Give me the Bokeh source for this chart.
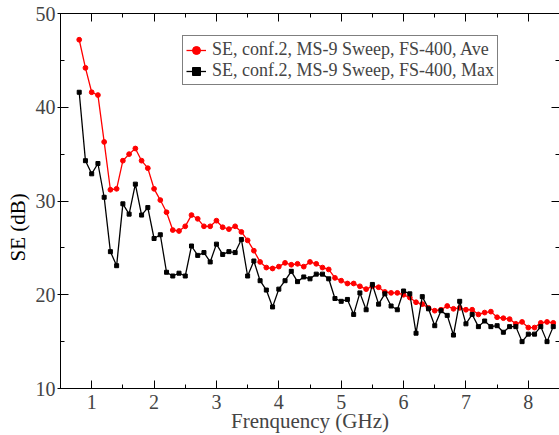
from bokeh.plotting import figure
from bokeh.models import (Legend, LegendItem, LinearAxis, SingleIntervalTicker,
                          Range1d, ColumnDataSource, CustomJSTickFormatter, Title)
from bokeh.embed import file_html
from bokeh.resources import INLINE

freq = [0.8, 0.9, 1.0, 1.1, 1.2, 1.3, 1.4, 1.5, 1.6, 1.7, 1.8, 1.9,
        2.0, 2.1, 2.2, 2.3, 2.4, 2.5, 2.6, 2.7, 2.8, 2.9,
        3.0, 3.1, 3.2, 3.3, 3.4, 3.5, 3.6, 3.7, 3.8, 3.9,
        4.0, 4.1, 4.2, 4.3, 4.4, 4.5, 4.6, 4.7, 4.8, 4.9,
        5.0, 5.1, 5.2, 5.3, 5.4, 5.5, 5.6, 5.7, 5.8, 5.9,
        6.0, 6.1, 6.2, 6.3, 6.4, 6.5, 6.6, 6.7, 6.8, 6.9,
        7.0, 7.1, 7.2, 7.3, 7.4, 7.5, 7.6, 7.7, 7.8, 7.9,
        8.0, 8.1, 8.2, 8.3, 8.4]

se_ave = [47.2, 44.2, 41.6, 41.3, 36.3, 31.2, 31.3, 34.3, 35.0, 35.6, 34.3, 33.5,
          31.3, 30.1, 28.8, 26.9, 26.8, 27.3, 28.5, 28.1, 27.3, 27.3,
          27.9, 27.2, 27.0, 27.3, 26.7, 25.8, 24.7, 23.5, 22.9, 22.8,
          23.0, 23.4, 23.2, 23.3, 23.0, 23.5, 23.3, 22.9, 22.7, 21.8,
          21.5, 21.2, 21.2, 20.9, 20.6, 20.9, 20.8, 20.3, 20.2, 20.2,
          20.0, 19.7, 19.2, 19.0, 18.6, 18.3, 18.4, 18.8, 18.5, 18.6,
          18.4, 18.4, 17.9, 18.1, 18.2, 17.6, 17.5, 17.4, 16.9, 17.1,
          16.5, 16.5, 17.0, 17.1, 17.0]

se_max = [41.6, 34.3, 32.9, 34.0, 30.4, 24.6, 23.1, 29.7, 28.6, 31.8, 28.5, 29.3,
          26.0, 26.4, 22.4, 22.0, 22.3, 22.0, 25.2, 24.2, 24.5, 23.5,
          25.4, 24.3, 24.6, 24.5, 25.9, 22.0, 23.6, 21.5, 20.5, 18.7,
          20.6, 21.5, 22.5, 21.4, 21.9, 21.7, 22.2, 22.2, 21.7, 19.6,
          19.3, 19.5, 17.9, 20.2, 18.4, 21.1, 19.0, 20.1, 18.8, 18.4,
          20.4, 20.1, 15.9, 19.8, 18.5, 16.7, 18.3, 17.8, 15.7, 19.3,
          16.9, 17.9, 16.6, 17.2, 16.6, 16.7, 16.0, 16.6, 16.6, 15.0,
          15.8, 15.8, 16.6, 15.0, 16.6]

label_ave = "SE, conf.2, MS-9 Sweep, FS-400, Ave"
label_max = "SE, conf.2, MS-9 Sweep, FS-400, Max"
x_title = "Frenquency (GHz)"
y_title = "SE (dB)"

FONT = "Liberation Serif"

src = ColumnDataSource(dict(x=freq, ave=se_ave, mx=se_max))

p = figure(width=559, height=435, x_range=Range1d(0.5, 8.5), y_range=Range1d(10, 50),
           output_backend="svg", toolbar_location=None,
           min_border_left=60, min_border_right=0, min_border_top=13, min_border_bottom=0)
p.grid.visible = False
p.outline_line_color = None
p.background_fill_color = "white"
p.border_fill_color = "white"

xt = SingleIntervalTicker(interval=1, num_minor_ticks=2)
yt = SingleIntervalTicker(interval=10, num_minor_ticks=2)

def style_axis(ax, ticker, out):
    ax.ticker = ticker
    ax.axis_line_color = "black"
    ax.axis_line_width = 1
    ax.major_tick_line_color = "black"
    ax.minor_tick_line_color = "black"
    ax.major_tick_in = 8
    ax.major_tick_out = out
    ax.minor_tick_in = 4
    ax.minor_tick_out = 0

xa = p.xaxis[0]
style_axis(xa, xt, 0)
xa.axis_label = x_title
xa.axis_label_text_font = FONT
xa.axis_label_text_font_size = "21px"
xa.axis_label_text_font_style = "normal"
xa.axis_label_standoff = -3
xa.major_label_text_font = FONT
xa.major_label_text_font_size = "20px"
xa.major_label_standoff = 6

ya = p.yaxis[0]
style_axis(ya, yt, 3)
ya.major_label_text_font = FONT
ya.major_label_text_font_size = "20px"
ya.major_label_standoff = 2

# y title in the left panel, a little below centre as in the reference
y_lab = Title(text=y_title, align="left", offset=127,
              text_font=FONT, text_font_size="21px", text_font_style="normal",
              text_color="black", standoff=6)
p.add_layout(y_lab, "left")

top = LinearAxis(formatter=CustomJSTickFormatter(code="return ''"))
style_axis(top, SingleIntervalTicker(interval=1, num_minor_ticks=2), 0)
top.major_label_standoff = 0
p.add_layout(top, "above")

right = LinearAxis(formatter=CustomJSTickFormatter(code="return ''"))
style_axis(right, SingleIntervalTicker(interval=10, num_minor_ticks=2), 0)
right.major_label_standoff = 0
p.add_layout(right, "right")

r_line = p.line("x", "ave", source=src, line_color="red", line_width=1.3)
r_pts = p.scatter("x", "ave", source=src, marker="circle", size=4.8, color="red")
k_line = p.line("x", "mx", source=src, line_color="black", line_width=1.3)
k_pts = p.scatter("x", "mx", source=src, marker="square", size=4, color="black")

legend = Legend(items=[LegendItem(label=label_ave, renderers=[r_line, r_pts]),
                       LegendItem(label=label_max, renderers=[k_line, k_pts])],
                location=(122, 303))
legend.border_line_color = "black"
legend.border_line_width = 1
legend.background_fill_color = "white"
legend.background_fill_alpha = 1
legend.label_text_font = FONT
legend.label_text_font_size = "18px"
legend.padding = 3
legend.spacing = 0
legend.margin = 0
legend.glyph_width = 20
legend.glyph_height = 20
legend.label_height = 20
legend.label_standoff = 6
p.add_layout(legend)

open("out.html", "w").write(file_html(p, INLINE))
